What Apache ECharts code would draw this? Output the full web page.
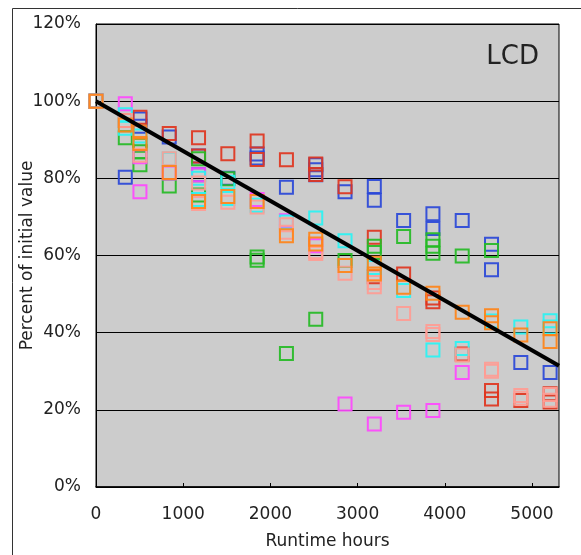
<!DOCTYPE html>
<html>
<head>
<meta charset="utf-8">
<script src="https://cdn.jsdelivr.net/npm/echarts@6/dist/echarts.min.js"></script>
<style>
html,body{margin:0;padding:0;background:#fff;}
#c{width:581px;height:555px;}
</style>
</head>
<body>
<div id="c"></div>
<script>
// [runtime hours, percent of initial value]
const blueData = [[0,100],[336,80.3],[504,95.4],[504,93.5],[840,90.7],[1176,85.8],[1176,80.9],[1512,80],[1848,86.3],[1848,85.3],[2184,77.7],[2520,83.5],[2520,82.2],[2520,80.9],[2856,76.5],[3192,77.9],[3192,74.3],[3528,69.1],[3864,70.8],[3864,67],[4200,69.1],[4536,62.9],[4536,56.3],[4872,32.3],[5208,29.7]];
const redData = [[0,100],[336,95],[504,95.8],[840,91.6],[1176,90.5],[1176,85.8],[1512,86.4],[1848,89.7],[1848,84.9],[2184,84.8],[2520,83.7],[2520,81],[2856,77.8],[3192,64.7],[3192,54.5],[3528,55.2],[3864,49],[3864,48],[4200,34.5],[4536,25],[4536,22.8],[4872,22.4],[5208,24.2],[5208,22]];
const greenData = [[0,100],[336,90.5],[504,88.6],[504,86.9],[504,83.5],[840,78],[1176,85.1],[1176,75.7],[1512,79.9],[1848,59.6],[1848,58.8],[2184,34.6],[2520,43.5],[2856,58.7],[3192,62.4],[3192,60.8],[3528,64.9],[3864,64.1],[3864,62.4],[3864,60.6],[4200,59.9],[4536,61.3]];
const magentaData = [[0,100],[336,99.3],[504,85.6],[504,76.5],[840,81.4],[1176,80.9],[1848,74.5],[2184,69],[2520,62.5],[2856,21.5],[3192,16.3],[3528,19.4],[3864,19.8],[4200,29.7]];
const cyanData = [[0,100],[336,96.5],[336,93],[504,91],[840,85],[1176,80],[1176,74.5],[1512,79],[1512,74.8],[1848,73],[2184,68.7],[2520,69.7],[2856,63.8],[3192,56.9],[3528,50.9],[3864,35.5],[4200,35.9],[4536,43],[4872,41.5],[5208,43.1],[5208,41.5]];
const salmonData = [[0,100],[336,95],[504,86],[840,85.1],[1176,78.8],[1176,73.5],[1512,73.8],[1848,72.6],[2184,68],[2184,66],[2520,61],[2520,60.5],[2856,55.4],[3192,53],[3192,51.9],[3528,45],[3864,40.3],[3864,39.5],[4200,34.2],[4536,30.5],[4536,30],[4872,23.7],[4872,23],[5208,24],[5208,22.5]];
const orangeData = [[0,100],[336,93.8],[504,92],[504,89],[840,81.5],[1176,74],[1512,75.3],[1848,74],[2184,65.1],[2520,64.2],[2520,63],[2856,57.4],[3192,58],[3192,55.2],[3528,51.8],[3864,50.2],[4200,45.3],[4536,44.4],[4536,42.6],[4872,39.4],[5208,41],[5208,37.7]];
const trendData = [[0,100],[5310,31.4]];
const xTicks = [0,1000,2000,3000,4000,5000];
const yTicks = [0,20,40,60,80,100,120];

const FONT = 'DejaVu Sans';
const chart = echarts.init(document.getElementById('c'), null, {renderer:'canvas'});

function sq(name, data, col){
  return {
    name, type:'scatter', data, symbol:'rect', symbolSize:13,
    itemStyle:{color:'rgba(0,0,0,0)', borderColor:col, borderWidth:2, opacity:0.92},
    emphasis:{disabled:true}, z:3
  };
}

chart.setOption({
  animation:false,
  backgroundColor:'#ffffff',
  grid:{left:96, top:24, right:22, bottom:68, show:true, backgroundColor:'#cccccc', borderColor:'#000', borderWidth:1},
  xAxis:{
    type:'value', min:0, max:5310, interval:1000,
    axisLine:{show:true, onZero:false, lineStyle:{color:'#000', width:1.5}},
    axisTick:{show:true, inside:true, length:4, lineStyle:{color:'#000'}},
    axisLabel:{fontFamily:FONT, fontSize:17, color:'#222', margin:19, showMaxLabel:false,
      formatter:v => xTicks.includes(v) ? String(v) : ''},
    splitLine:{show:false},
    name:'Runtime hours', nameLocation:'middle', nameGap:46, nameMoveOverlap:false,
    nameTextStyle:{fontFamily:FONT, fontSize:17, color:'#222'}
  },
  yAxis:{
    type:'value', min:0, max:120, interval:20,
    axisLine:{show:true, lineStyle:{color:'#000', width:1}},
    axisTick:{show:false},
    axisLabel:{fontFamily:FONT, fontSize:17, color:'#222', margin:15,
      formatter:v => yTicks.includes(v) ? v + '%' : ''},
    splitLine:{show:true, lineStyle:{color:'#000', width:1}},
    name:'Percent of initial value', nameLocation:'middle', nameGap:60, nameMoveOverlap:false,
    nameTextStyle:{fontFamily:FONT, fontSize:17, color:'#222'}
  },
  graphic:[
    {type:'rect', shape:{x:12.5, y:8.5, width:700, height:700}, style:{fill:'none', stroke:'#333', lineWidth:1}, z:0, silent:true},
    {type:'text', right:42, top:44, style:{text:'LCD', font:'26px "DejaVu Sans"', fill:'#222'}, z:10}
  ],
  series:[
    sq('blue', blueData, '#2a48d8'),
    sq('red', redData, '#e0351e'),
    sq('green', greenData, '#25bb25'),
    sq('magenta', magentaData, '#ff48ff'),
    sq('cyan', cyanData, '#28f4f4'),
    sq('salmon', salmonData, '#ff9c94'),
    sq('orange', orangeData, '#ff8418'),
    {name:'trend', type:'line', data:trendData, symbol:'none', lineStyle:{color:'#000', width:4}, z:4, silent:true}
  ]
});
</script>
</body>
</html>
